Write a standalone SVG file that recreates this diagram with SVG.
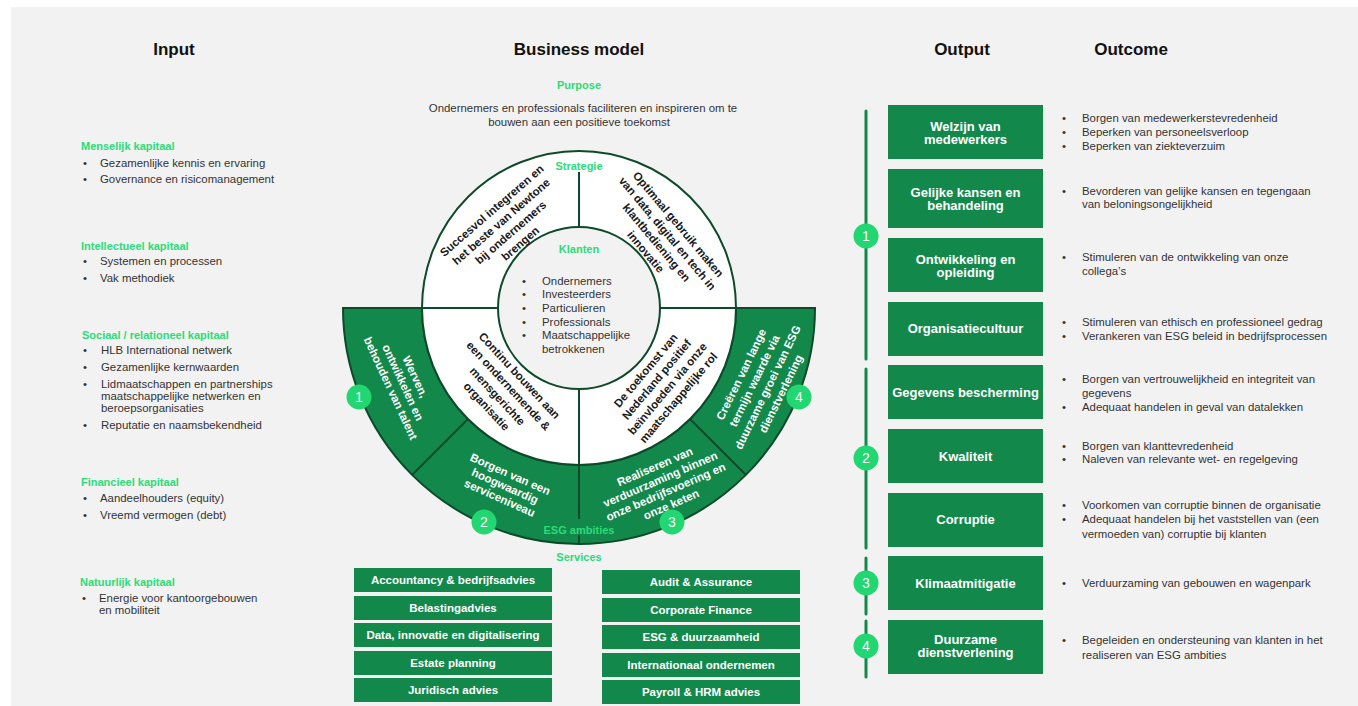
<svg xmlns="http://www.w3.org/2000/svg" width="1358" height="706" viewBox="0 0 1358 706">
<style>
text{font-family:"Liberation Sans",Arial,sans-serif;}
.h{font-size:17px;font-weight:bold;fill:#111;text-anchor:middle;}
.acc{font-size:11px;font-weight:bold;fill:#2bdc78;}
.accm{font-size:11px;font-weight:bold;fill:#2bdc78;text-anchor:middle;}
.t{font-size:11.4px;fill:#333;}
.tm{font-size:11.4px;fill:#333;text-anchor:middle;}
.ring{font-size:11.5px;font-weight:bold;fill:#1a1a1a;text-anchor:middle;}
.band{font-size:11.5px;font-weight:bold;fill:#fff;text-anchor:middle;}
.box{fill:#13884b;}
.bt{font-size:13px;font-weight:bold;fill:#fff;text-anchor:middle;}
.st{font-size:11.5px;font-weight:bold;fill:#fff;text-anchor:middle;}
.num{fill:#22d671;}
.nt{font-size:14px;fill:#fff;text-anchor:middle;}
.ol{fill:none;stroke:#0c4a2a;stroke-width:2;}
.vl{stroke:#13884b;stroke-width:3;stroke-linecap:round;}
</style>
<rect x="11" y="7" width="1347" height="699" fill="#f2f2f2"/>

<g id="headers">
<text class="h" x="174" y="55">Input</text>
<text class="h" x="579" y="55">Business model</text>
<text class="h" x="962" y="55">Output</text>
<text class="h" x="1131" y="55">Outcome</text>
</g>

<g id="input">
<text class="acc" x="81" y="150">Menselijk kapitaal</text>
<text class="t" x="83" y="167">•</text><text class="t" x="100" y="167">Gezamenlijke kennis en ervaring</text>
<text class="t" x="83" y="183">•</text><text class="t" x="100" y="183">Governance en risicomanagement</text>
<text class="acc" x="81" y="250">Intellectueel kapitaal</text>
<text class="t" x="83" y="265">•</text><text class="t" x="100" y="265">Systemen en processen</text>
<text class="t" x="83" y="282">•</text><text class="t" x="100" y="282">Vak methodiek</text>
<text class="acc" x="82" y="339">Sociaal / relationeel kapitaal</text>
<text class="t" x="83" y="354">•</text><text class="t" x="101" y="354">HLB International netwerk</text>
<text class="t" x="83" y="371">•</text><text class="t" x="101" y="371">Gezamenlijke kernwaarden</text>
<text class="t" x="83" y="388">•</text><text class="t" x="101" y="388">Lidmaatschappen en partnerships</text>
<text class="t" x="101" y="400">maatschappelijke netwerken en</text>
<text class="t" x="101" y="412">beroepsorganisaties</text>
<text class="t" x="83" y="429">•</text><text class="t" x="101" y="429">Reputatie en naamsbekendheid</text>
<text class="acc" x="81" y="486">Financieel kapitaal</text>
<text class="t" x="83" y="502">•</text><text class="t" x="100" y="502">Aandeelhouders (equity)</text>
<text class="t" x="83" y="519">•</text><text class="t" x="100" y="519">Vreemd vermogen (debt)</text>
<text class="acc" x="80" y="586">Natuurlijk kapitaal</text>
<text class="t" x="82" y="602">•</text><text class="t" x="99" y="602">Energie voor kantoorgebouwen</text>
<text class="t" x="99" y="614">en mobiliteit</text>
</g>

<g id="purpose">
<text class="accm" x="579" y="89">Purpose</text>
<text class="tm" x="583" y="112">Ondernemers en professionals faciliteren en inspireren om te</text>
<text class="tm" x="579" y="125.5">bouwen aan een positieve toekomst</text>
</g>

<g id="business-model">
<path id="esg-band" d="M343 308 A236 236 0 0 0 815 308 L736 308 A157 157 0 0 1 422 308 Z" fill="#13884b" stroke="#0c4a2a" stroke-width="2"/>
<circle id="strategy-ring" cx="579" cy="308" r="157" fill="#fff" stroke="#0c4a2a" stroke-width="2"/>
<circle id="klanten-core" cx="579" cy="308" r="81" fill="#f2f2f2" stroke="#0c4a2a" stroke-width="2"/>
<g class="ol">
<line x1="579" y1="172" x2="579" y2="227"/>
<line x1="579" y1="389" x2="579" y2="519"/>
<line x1="579" y1="535" x2="579" y2="544"/>
<line x1="422" y1="308" x2="498" y2="308"/>
<line x1="660" y1="308" x2="736" y2="308"/>
<line x1="468" y1="419" x2="412" y2="475"/>
<line x1="690" y1="419" x2="746" y2="475"/>
</g>
<text class="accm" x="579" y="170">Strategie</text>
<text class="accm" x="579" y="253">Klanten</text>
<g id="klanten-list">
<text class="t" x="522" y="285">•</text><text class="t" x="542" y="285">Ondernemers</text>
<text class="t" x="522" y="298">•</text><text class="t" x="542" y="298">Investeerders</text>
<text class="t" x="522" y="312">•</text><text class="t" x="542" y="312">Particulieren</text>
<text class="t" x="522" y="326">•</text><text class="t" x="542" y="326">Professionals</text>
<text class="t" x="522" y="339">•</text><text class="t" x="542" y="339">Maatschappelijke</text>
<text class="t" x="542" y="353">betrokkenen</text>
</g>
<g id="strategy-texts">
<text class="ring" transform="translate(506,227) rotate(-41)"><tspan x="0" y="-17.75">Succesvol integreren en</tspan><tspan x="0" y="-3.25">het beste van Newtone</tspan><tspan x="0" y="11.25">bij ondernemers</tspan><tspan x="0" y="25.75">brengen</tspan></text>
<text class="ring" transform="translate(662,238) rotate(50)"><tspan x="0" y="-17.3">Optimaal gebruik maken</tspan><tspan x="0" y="-3.1">van data, digital en tech in</tspan><tspan x="0" y="11.1">klantbediening en</tspan><tspan x="0" y="25.3">innovatie</tspan></text>
<text class="ring" transform="translate(503,391) rotate(47)"><tspan x="0" y="-18.5">Continu bouwen aan</tspan><tspan x="0" y="-3.5">een ondernemende &amp;</tspan><tspan x="0" y="11.5">mensgerichte</tspan><tspan x="0" y="26.5">organisatie</tspan></text>
<text class="ring" transform="translate(662,384) rotate(-50)"><tspan x="0" y="-17.3">De toekomst van</tspan><tspan x="0" y="-3.1">Nederland positief</tspan><tspan x="0" y="11.1">beïnvloeden via onze</tspan><tspan x="0" y="25.3">maatschappelijke rol</tspan></text>
</g>
<g id="esg-texts">
<text class="band" transform="translate(403,382.5) rotate(65)"><tspan x="0" y="-9.6">Werven,</tspan><tspan x="0" y="4">ontwikkelen en</tspan><tspan x="0" y="17.6">behouden van talent</tspan></text>
<text class="band" transform="translate(505,486) rotate(24)"><tspan x="0" y="-9">Borgen van een</tspan><tspan x="0" y="4">hoogwaardig</tspan><tspan x="0" y="17">serviceniveau</tspan></text>
<text class="band" transform="translate(663,485.5) rotate(-23.5)"><tspan x="0" y="-16.5">Realiseren van</tspan><tspan x="0" y="-2.8">verduurzaming binnen</tspan><tspan x="0" y="10.9">onze bedrijfsvoering en</tspan><tspan x="0" y="24.6">onze keten</tspan></text>
<text class="band" transform="translate(761,384) rotate(-64)"><tspan x="0" y="-18">Creëren van lange</tspan><tspan x="0" y="-3.3">termijn waarde via</tspan><tspan x="0" y="11.4">duurzame groei van ESG</tspan><tspan x="0" y="26.1">dienstverlening</tspan></text>
</g>
<text class="accm" x="579" y="534">ESG ambities</text>
</g>

<g id="esg-numbers">
<circle class="num" cx="359" cy="397" r="12.5"/><text class="nt" x="359" y="402">1</text>
<circle class="num" cx="484" cy="522" r="12.5"/><text class="nt" x="484" y="527">2</text>
<circle class="num" cx="672" cy="522" r="12.5"/><text class="nt" x="672" y="527">3</text>
<circle class="num" cx="799" cy="397" r="12.5"/><text class="nt" x="799" y="402">4</text>
</g>

<g id="services">
<text class="accm" x="579" y="561">Services</text>
<g id="svc-accountancy"><rect class="box" x="354" y="568" width="198" height="24"/><text class="st" x="453" y="584">Accountancy &amp; bedrijfsadvies</text></g>
<g id="svc-belasting"><rect class="box" x="354" y="596" width="198" height="24"/><text class="st" x="453" y="612">Belastingadvies</text></g>
<g id="svc-data"><rect class="box" x="354" y="623" width="198" height="24"/><text class="st" x="453" y="639">Data, innovatie en digitalisering</text></g>
<g id="svc-estate"><rect class="box" x="354" y="651" width="198" height="24"/><text class="st" x="453" y="667">Estate planning</text></g>
<g id="svc-juridisch"><rect class="box" x="354" y="678" width="198" height="24"/><text class="st" x="453" y="694">Juridisch advies</text></g>
<g id="svc-audit"><rect class="box" x="602" y="570" width="198" height="24"/><text class="st" x="701" y="586">Audit &amp; Assurance</text></g>
<g id="svc-cf"><rect class="box" x="602" y="598" width="198" height="24"/><text class="st" x="701" y="614">Corporate Finance</text></g>
<g id="svc-esg"><rect class="box" x="602" y="625" width="198" height="24"/><text class="st" x="701" y="641">ESG &amp; duurzaamheid</text></g>
<g id="svc-int"><rect class="box" x="602" y="653" width="198" height="24"/><text class="st" x="701" y="669">Internationaal ondernemen</text></g>
<g id="svc-payroll"><rect class="box" x="602" y="680" width="198" height="24"/><text class="st" x="701" y="696">Payroll &amp; HRM advies</text></g>
</g>

<g id="connectors">
<line class="vl" x1="866" y1="111" x2="866" y2="359"/>
<line class="vl" x1="866" y1="369" x2="866" y2="548"/>
<line class="vl" x1="866" y1="558" x2="866" y2="614"/>
<line class="vl" x1="866" y1="621" x2="866" y2="677"/>
</g>
<g id="outcome-numbers">
<circle class="num" cx="866" cy="236" r="12.5"/><text class="nt" x="866" y="241">1</text>
<circle class="num" cx="866" cy="458" r="12.5"/><text class="nt" x="866" y="463">2</text>
<circle class="num" cx="866" cy="583" r="12.5"/><text class="nt" x="866" y="588">3</text>
<circle class="num" cx="866" cy="646" r="12.5"/><text class="nt" x="866" y="651">4</text>
</g>

<g id="out-welzijn"><rect class="box" x="888" y="105" width="155" height="54"/><text class="bt" x="965.5" y="130.5">Welzijn van</text><text class="bt" x="965.5" y="144">medewerkers</text>
<text class="t" x="1062" y="122">•</text><text class="t" x="1082" y="122">Borgen van medewerkerstevredenheid</text>
<text class="t" x="1062" y="136">•</text><text class="t" x="1082" y="136">Beperken van personeelsverloop</text>
<text class="t" x="1062" y="150">•</text><text class="t" x="1082" y="150">Beperken van ziekteverzuim</text></g>
<g id="out-gelijke"><rect class="box" x="888" y="169" width="155" height="59"/><text class="bt" x="965.5" y="196.5">Gelijke kansen en</text><text class="bt" x="965.5" y="210">behandeling</text>
<text class="t" x="1062" y="195">•</text><text class="t" x="1082" y="195">Bevorderen van gelijke kansen en tegengaan</text>
<text class="t" x="1082" y="208">van beloningsongelijkheid</text></g>
<g id="out-ontwikkeling"><rect class="box" x="888" y="238" width="155" height="54"/><text class="bt" x="965.5" y="263.5">Ontwikkeling en</text><text class="bt" x="965.5" y="277">opleiding</text>
<text class="t" x="1062" y="261">•</text><text class="t" x="1082" y="261">Stimuleren van de ontwikkeling van onze</text>
<text class="t" x="1082" y="275">collega’s</text></g>
<g id="out-cultuur"><rect class="box" x="888" y="302" width="155" height="54"/><text class="bt" x="965.5" y="333">Organisatiecultuur</text>
<text class="t" x="1062" y="326">•</text><text class="t" x="1082" y="326">Stimuleren van ethisch en professioneel gedrag</text>
<text class="t" x="1062" y="340">•</text><text class="t" x="1082" y="340">Verankeren van ESG beleid in bedrijfsprocessen</text></g>
<g id="out-gegevens"><rect class="box" x="888" y="365" width="155" height="54"/><text class="bt" x="965.5" y="397">Gegevens bescherming</text>
<text class="t" x="1062" y="383">•</text><text class="t" x="1082" y="383">Borgen van vertrouwelijkheid en integriteit van</text>
<text class="t" x="1082" y="397">gegevens</text>
<text class="t" x="1062" y="411">•</text><text class="t" x="1082" y="411">Adequaat handelen in geval van datalekken</text></g>
<g id="out-kwaliteit"><rect class="box" x="888" y="429" width="155" height="54"/><text class="bt" x="965.5" y="460.5">Kwaliteit</text>
<text class="t" x="1062" y="450">•</text><text class="t" x="1082" y="450">Borgen van klanttevredenheid</text>
<text class="t" x="1062" y="463">•</text><text class="t" x="1082" y="463">Naleven van relevante wet- en regelgeving</text></g>
<g id="out-corruptie"><rect class="box" x="888" y="493" width="155" height="54"/><text class="bt" x="965.5" y="524">Corruptie</text>
<text class="t" x="1062" y="509">•</text><text class="t" x="1082" y="509">Voorkomen van corruptie binnen de organisatie</text>
<text class="t" x="1062" y="523">•</text><text class="t" x="1082" y="523">Adequaat handelen bij het vaststellen van (een</text>
<text class="t" x="1082" y="538">vermoeden van) corruptie bij klanten</text></g>
<g id="out-klimaat"><rect class="box" x="888" y="556" width="155" height="54"/><text class="bt" x="965.5" y="587.5">Klimaatmitigatie</text>
<text class="t" x="1062" y="587">•</text><text class="t" x="1082" y="587">Verduurzaming van gebouwen en wagenpark</text></g>
<g id="out-duurzaam"><rect class="box" x="888" y="620" width="155" height="54"/><text class="bt" x="965.5" y="643.5">Duurzame</text><text class="bt" x="965.5" y="657">dienstverlening</text>
<text class="t" x="1062" y="644">•</text><text class="t" x="1082" y="644">Begeleiden en ondersteuning van klanten in het</text>
<text class="t" x="1082" y="659">realiseren van ESG ambities</text></g>
</svg>
